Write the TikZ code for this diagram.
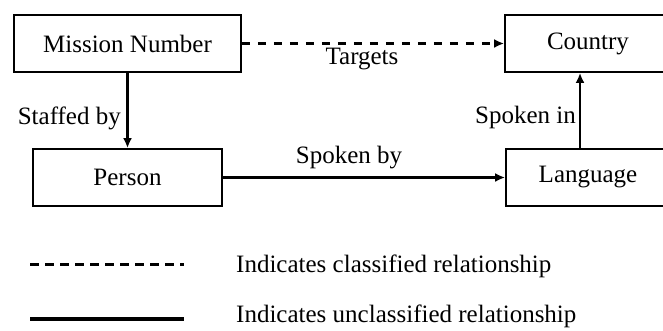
\documentclass[tikz,border=0pt]{standalone}
\usepackage{fontspec}
\setmainfont{Liberation Serif}
\usetikzlibrary{arrows.meta}
\begin{document}
\begin{tikzpicture}[x=1pt,y=-1pt,
  every node/.style={font=\fontsize{25}{29}\selectfont, inner sep=2pt},
  entity/.style={draw, line width=1.8pt, minimum height=57pt, inner sep=0pt},
  link/.style={line width=2.6pt, -{Latex[length=10pt,width=9pt]}},
  classified/.style={link, dash pattern=on 8pt off 8pt},
  lbl/.style={inner sep=1pt}]
  \clip (0,0) rectangle (663,330);
  \fill[white] (0,0) rectangle (663,330);

  % entities
  \node[entity, minimum width=227pt] (mission)  at (127.5,43.5)  {Mission Number};
  \node[entity, minimum width=189pt] (person)   at (127.5,177.5) {Person};
  \node[entity, minimum width=166pt] (country)  at (588,43.5)    {Country};
  \node[entity, minimum width=164pt] (language) at (588,177.5)   {Language};

  % relationships
  \draw[link] (mission.south) -- (person.north);
  \draw[classified] (mission.east) -- (country.west);
  \draw[link] (person.east) -- (language.west);
  \draw[link] ([xshift=-8pt]language.north) -- ([xshift=-8pt]country.south);

  \node[lbl, anchor=east] (staffed) at (122,118) {Staffed by};
  \node[lbl] (targets) at (362,59) {Targets};
  \node[lbl] (spokenby) at (349,158) {Spoken by};
  \node[lbl, anchor=east] (spokenin) at (577,117) {Spoken in};

  % legend
  \coordinate (d1) at (30,264);
  \coordinate (d2) at (184,264);
  \coordinate (s1) at (30,319);
  \coordinate (s2) at (184,319);
  \draw[line width=3pt, dash pattern=on 9pt off 6pt] (d1) -- (d2);
  \draw[line width=3.5pt] (s1) -- (s2);
  \node[lbl, anchor=west] (kclass) at (235,266) {Indicates classified relationship};
  \node[lbl, anchor=west] (kunclass) at (235,316) {Indicates unclassified relationship};
\end{tikzpicture}
\end{document}
